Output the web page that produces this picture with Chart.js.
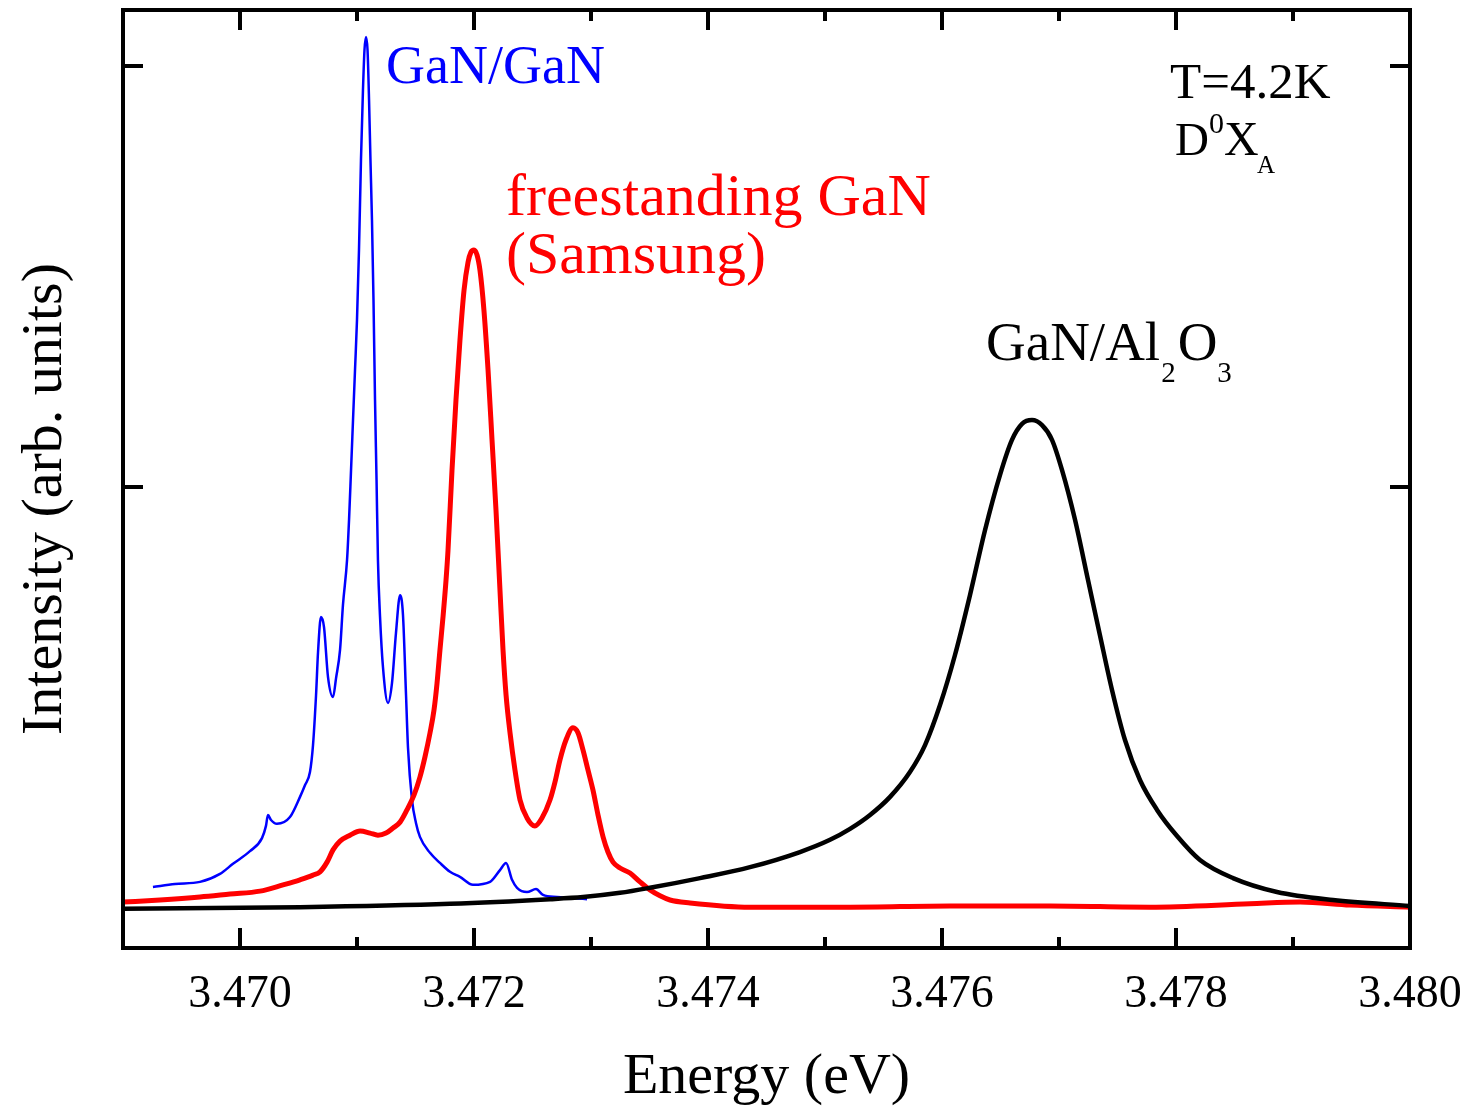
<!DOCTYPE html>
<html>
<head>
<meta charset="utf-8">
<script src="https://cdn.jsdelivr.net/npm/chart.js@4"></script>
<style>
  html, body { margin: 0; padding: 0; background: #fff; }
  canvas { display: block; }
</style>
</head>
<body>
<canvas id="plChart" width="1468" height="1107"></canvas>
<script>
// PL spectra, D0XA region, T = 4.2 K
const ganGanE = [3.469256, 3.469444, 3.469658, 3.469829, 3.469940, 3.470085, 3.470188, 3.470222, 3.470239, 3.470265,
  3.470316, 3.470427, 3.470513, 3.470556, 3.470598, 3.470624, 3.470650, 3.470667, 3.470692, 3.470718,
  3.470752, 3.470795, 3.470821, 3.470855, 3.470880, 3.470915, 3.470932, 3.470949, 3.470966, 3.470983,
  3.471000, 3.471017, 3.471034, 3.471051, 3.471064, 3.471077, 3.471090, 3.471103, 3.471115, 3.471128,
  3.471141, 3.471154, 3.471167, 3.471179, 3.471197, 3.471222, 3.471265, 3.471299, 3.471333, 3.471368,
  3.471393, 3.471419, 3.471436, 3.471470, 3.471504, 3.471538, 3.471624, 3.471709, 3.471795, 3.471880,
  3.471991, 3.472137, 3.472222, 3.472274, 3.472325, 3.472368, 3.472453, 3.472530, 3.472590, 3.472709,
  3.472966];
const ganGanI = [0.050, 0.057, 0.062, 0.081, 0.105, 0.135, 0.166, 0.195, 0.221, 0.209,
  0.200, 0.216, 0.264, 0.292, 0.323, 0.387, 0.506, 0.608, 0.691, 0.667,
  0.549, 0.501, 0.546, 0.613, 0.720, 0.827, 0.922, 1.040, 1.159, 1.278,
  1.397, 1.563, 1.777, 1.943, 2.038, 2.069, 2.038, 1.919, 1.777, 1.634,
  1.444, 1.207, 1.017, 0.827, 0.691, 0.572, 0.487, 0.534, 0.653, 0.743,
  0.696, 0.506, 0.380, 0.257, 0.202, 0.169, 0.131, 0.107, 0.086, 0.074,
  0.055, 0.062, 0.090, 0.107, 0.067, 0.048, 0.038, 0.045, 0.031, 0.026,
  0.021];

const freeE = [3.469000, 3.469316, 3.469658, 3.469915, 3.470171, 3.470368, 3.470513, 3.470624, 3.470684, 3.470744,
  3.470795, 3.470855, 3.470940, 3.471026, 3.471111, 3.471179, 3.471248, 3.471308, 3.471368, 3.471427,
  3.471487, 3.471538, 3.471581, 3.471624, 3.471658, 3.471684, 3.471709, 3.471735, 3.471761, 3.471778,
  3.471812, 3.471846, 3.471880, 3.471915, 3.471949, 3.471974, 3.472000, 3.472026, 3.472051, 3.472085,
  3.472120, 3.472154, 3.472188, 3.472222, 3.472248, 3.472274, 3.472308, 3.472350, 3.472393, 3.472453,
  3.472521, 3.472581, 3.472650, 3.472692, 3.472735, 3.472786, 3.472846, 3.472889, 3.472932, 3.472974,
  3.473017, 3.473060, 3.473103, 3.473145, 3.473188, 3.473248, 3.473333, 3.473419, 3.473504, 3.473590,
  3.473675, 3.473846, 3.474359, 3.475214, 3.476068, 3.476923, 3.477778, 3.478632, 3.479060, 3.479487,
  3.480000];
const freeI = [0.014, 0.019, 0.026, 0.033, 0.040, 0.055, 0.067, 0.078, 0.086, 0.109,
  0.138, 0.159, 0.173, 0.183, 0.178, 0.173, 0.178, 0.190, 0.204, 0.233,
  0.268, 0.311, 0.359, 0.416, 0.470, 0.534, 0.613, 0.691, 0.779, 0.850,
  1.040, 1.207, 1.349, 1.468, 1.534, 1.558, 1.563, 1.551, 1.515, 1.420,
  1.278, 1.112, 0.945, 0.755, 0.613, 0.506, 0.416, 0.328, 0.257, 0.214,
  0.195, 0.214, 0.257, 0.299, 0.352, 0.399, 0.428, 0.416, 0.375, 0.328,
  0.280, 0.221, 0.169, 0.133, 0.109, 0.095, 0.083, 0.062, 0.043, 0.029,
  0.019, 0.012, 0.002, 0.002, 0.005, 0.005, 0.002, 0.010, 0.014, 0.007,
  0.002];

const sapphE = [3.469000, 3.470513, 3.471795, 3.472650, 3.472932, 3.473248, 3.473504, 3.473932, 3.474359, 3.474786,
  3.475043, 3.475214, 3.475385, 3.475556, 3.475726, 3.475855, 3.475983, 3.476111, 3.476239, 3.476368,
  3.476496, 3.476598, 3.476684, 3.476769, 3.476855, 3.476940, 3.477026, 3.477137, 3.477248, 3.477350,
  3.477453, 3.477564, 3.477692, 3.477838, 3.478009, 3.478205, 3.478487, 3.478863, 3.479342, 3.480000];
const sapphI = [-0.002, 0.002, 0.010, 0.021, 0.026, 0.036, 0.048, 0.071, 0.097, 0.133,
  0.162, 0.188, 0.221, 0.264, 0.323, 0.387, 0.482, 0.601, 0.743, 0.898,
  1.029, 1.112, 1.150, 1.159, 1.147, 1.112, 1.040, 0.922, 0.779, 0.648,
  0.518, 0.399, 0.304, 0.233, 0.171, 0.114, 0.071, 0.038, 0.019, 0.005];

const energyTicks = [3.470, 3.472, 3.474, 3.476, 3.478, 3.480];
const energyMinor = [3.471, 3.473, 3.475, 3.477, 3.479];
const intensityTicks = [1, 2];

const FONT = '"Liberation Serif", "Times New Roman", serif';

function pts(xs, ys) {
  return xs.map((x, i) => ({ x: x, y: ys[i] }));
}

const framePlugin = {
  id: 'frame',
  afterDatasetsDraw(chart) {
    const { ctx, chartArea: a, scales } = chart;
    const xs = scales.x, ys = scales.y;
    ctx.save();
    ctx.strokeStyle = '#000';
    ctx.lineWidth = 4;
    ctx.lineCap = 'square';
    ctx.strokeRect(a.left, a.top, a.right - a.left, a.bottom - a.top);

    ctx.lineCap = 'butt';
    ctx.beginPath();
    energyTicks.forEach(v => {
      const px = Math.round(xs.getPixelForValue(v));
      ctx.moveTo(px, a.bottom); ctx.lineTo(px, a.bottom - 20);
      ctx.moveTo(px, a.top); ctx.lineTo(px, a.top + 20);
    });
    energyMinor.forEach(v => {
      const px = Math.round(xs.getPixelForValue(v));
      ctx.moveTo(px, a.bottom); ctx.lineTo(px, a.bottom - 11);
      ctx.moveTo(px, a.top); ctx.lineTo(px, a.top + 11);
    });
    intensityTicks.forEach(v => {
      const py = Math.round(ys.getPixelForValue(v));
      ctx.moveTo(a.left, py); ctx.lineTo(a.left + 20, py);
      ctx.moveTo(a.right, py); ctx.lineTo(a.right - 20, py);
    });
    ctx.stroke();

    // tick labels
    ctx.fillStyle = '#000';
    ctx.font = '46px ' + FONT;
    ctx.textAlign = 'center';
    ctx.textBaseline = 'alphabetic';
    energyTicks.forEach(v => {
      ctx.fillText(v.toFixed(3), xs.getPixelForValue(v), 1007);
    });

    // axis titles
    ctx.font = '58px ' + FONT;
    ctx.fillText('Energy (eV)', (a.left + a.right) / 2, 1093);
    ctx.save();
    ctx.translate(61, (a.top + a.bottom) / 2 + 20);
    ctx.rotate(-Math.PI / 2);
    ctx.fillText('Intensity (arb. units)', 0, 0);
    ctx.restore();

    // annotations
    ctx.textAlign = 'left';
    ctx.fillStyle = '#0000ff';
    ctx.font = '54px ' + FONT;
    ctx.fillText('GaN/GaN', 386, 83);

    ctx.fillStyle = '#ff0000';
    ctx.font = '60px ' + FONT;
    ctx.fillText('freestanding GaN', 506, 215);
    ctx.fillText('(Samsung)', 506, 273);

    ctx.fillStyle = '#000';
    ctx.font = '51px ' + FONT;
    ctx.fillText('T=4.2K', 1170, 98);
    ctx.font = '47px ' + FONT;
    ctx.fillText('D', 1175, 155);
    ctx.font = '30px ' + FONT;
    ctx.fillText('0', 1209, 133);
    ctx.font = '48px ' + FONT;
    ctx.fillText('X', 1224, 155);
    ctx.font = '25px ' + FONT;
    ctx.fillText('A', 1257, 173);

    ctx.font = '55px ' + FONT;
    let x = 986;
    ctx.fillText('GaN/Al', x, 360);
    x += ctx.measureText('GaN/Al').width;
    ctx.font = '29px ' + FONT;
    ctx.fillText('2', x + 1, 382);
    x += ctx.measureText('2').width + 3;
    ctx.font = '55px ' + FONT;
    ctx.fillText('O', x, 360);
    x += ctx.measureText('O').width;
    ctx.font = '29px ' + FONT;
    ctx.fillText('3', x, 382);
    ctx.restore();
  }
};

new Chart(document.getElementById('plChart').getContext('2d'), {
  type: 'line',
  data: {
    datasets: [
      {
        label: 'GaN/Al2O3',
        data: pts(sapphE, sapphI),
        borderColor: '#000000',
        borderWidth: 4.5,
        pointRadius: 0,
        cubicInterpolationMode: 'monotone'
      },
      {
        label: 'freestanding GaN (Samsung)',
        data: pts(freeE, freeI),
        borderColor: '#ff0000',
        borderWidth: 5,
        pointRadius: 0,
        cubicInterpolationMode: 'monotone'
      },
      {
        label: 'GaN/GaN',
        data: pts(ganGanE, ganGanI),
        borderColor: '#0000ff',
        borderWidth: 2.5,
        pointRadius: 0,
        cubicInterpolationMode: 'monotone'
      }
    ]
  },
  options: {
    responsive: false,
    animation: false,
    devicePixelRatio: 1,
    layout: { padding: { left: 123, right: 58, top: 10, bottom: 159 } },
    plugins: {
      legend: { display: false },
      tooltip: { enabled: false }
    },
    scales: {
      x: { type: 'linear', min: 3.469, max: 3.480, display: false },
      y: { type: 'linear', min: -0.095, max: 2.133, display: false }
    }
  },
  plugins: [framePlugin]
});
</script>
</body>
</html>
